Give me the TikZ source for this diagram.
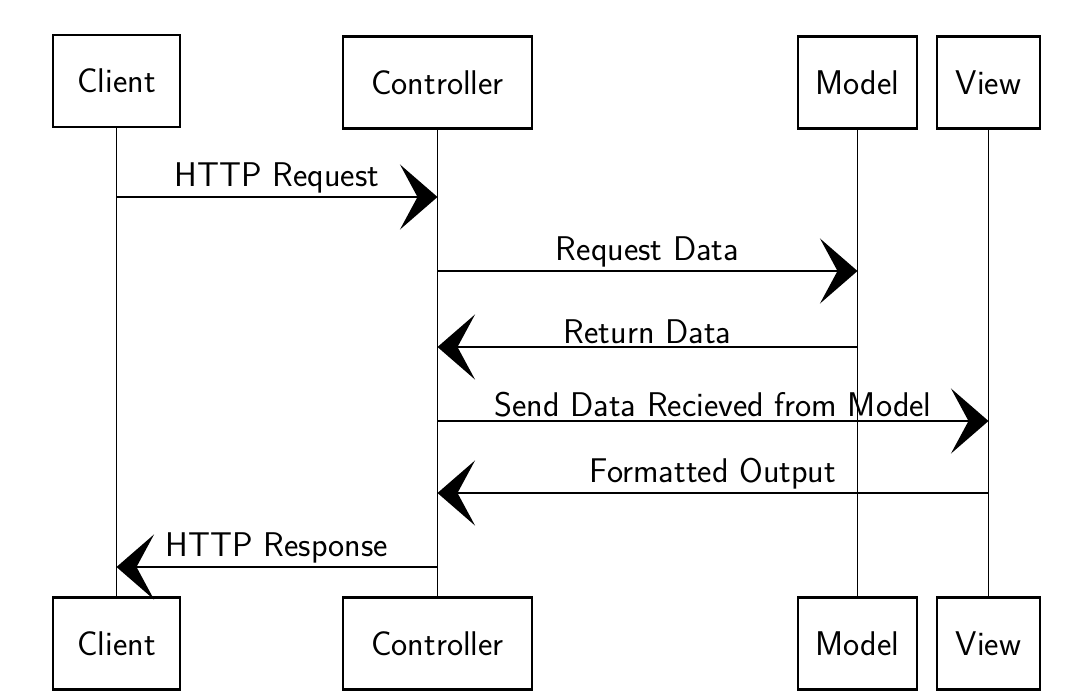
\documentclass[tikz,border=0pt]{standalone}
\usepackage{tikz}
\usetikzlibrary{arrows.meta}

\begin{document}
\begin{tikzpicture}[
  actor/.style={draw, line width=1.2pt, minimum height=1.84cm, font=\sffamily\fontsize{19.5}{22}\selectfont},
  life/.style={line width=0.8pt},
  msg/.style={line width=1.2pt, -{Stealth[length=0.75cm, width=1.3cm, inset=0.35cm]}},
  lbl/.style={above, inner sep=1.5pt, font=\sffamily\fontsize{19.5}{22}\selectfont}
]
\useasboundingbox (0, 0) rectangle (21.68, -13.92);

\node[actor, minimum width=2.54cm] (clt) at (2.33, -1.62) {Client};
\node[actor, minimum width=3.78cm] (ctt) at (8.75, -1.65) {Controller};
\node[actor, minimum width=2.38cm] (mdt) at (17.15, -1.65) {Model};
\node[actor, minimum width=2.06cm] (vwt) at (19.77, -1.65) {View};

\node[actor, minimum width=2.54cm] (clb) at (2.33, -12.87) {Client};
\node[actor, minimum width=3.78cm] (ctb) at (8.75, -12.87) {Controller};
\node[actor, minimum width=2.38cm] (mdb) at (17.15, -12.87) {Model};
\node[actor, minimum width=2.06cm] (vwb) at (19.77, -12.87) {View};

\draw[life] (clt) -- (clb);
\draw[life] (ctt) -- (ctb);
\draw[life] (mdt) -- (mdb);
\draw[life] (vwt) -- (vwb);

\coordinate (m1) at (0, -3.94);
\coordinate (m2) at (0, -5.42);
\coordinate (m3) at (0, -6.94);
\coordinate (m4) at (0, -8.42);
\coordinate (m5) at (0, -9.86);
\coordinate (m6) at (0, -11.34);

\draw[msg] (clt |- m1) -- node[lbl] {HTTP Request} (ctt |- m1);
\draw[msg] (ctt |- m2) -- node[lbl] {Request Data} (mdt |- m2);
\draw[msg] (mdt |- m3) -- node[lbl] {Return Data} (ctt |- m3);
\draw[msg] (ctt |- m4) -- node[lbl] {Send Data Recieved from Model} (vwt |- m4);
\draw[msg] (vwt |- m5) -- node[lbl] {Formatted Output} (ctt |- m5);
\draw[msg] (ctt |- m6) -- node[lbl] {HTTP Response} (clt |- m6);

\end{tikzpicture}
\end{document}
